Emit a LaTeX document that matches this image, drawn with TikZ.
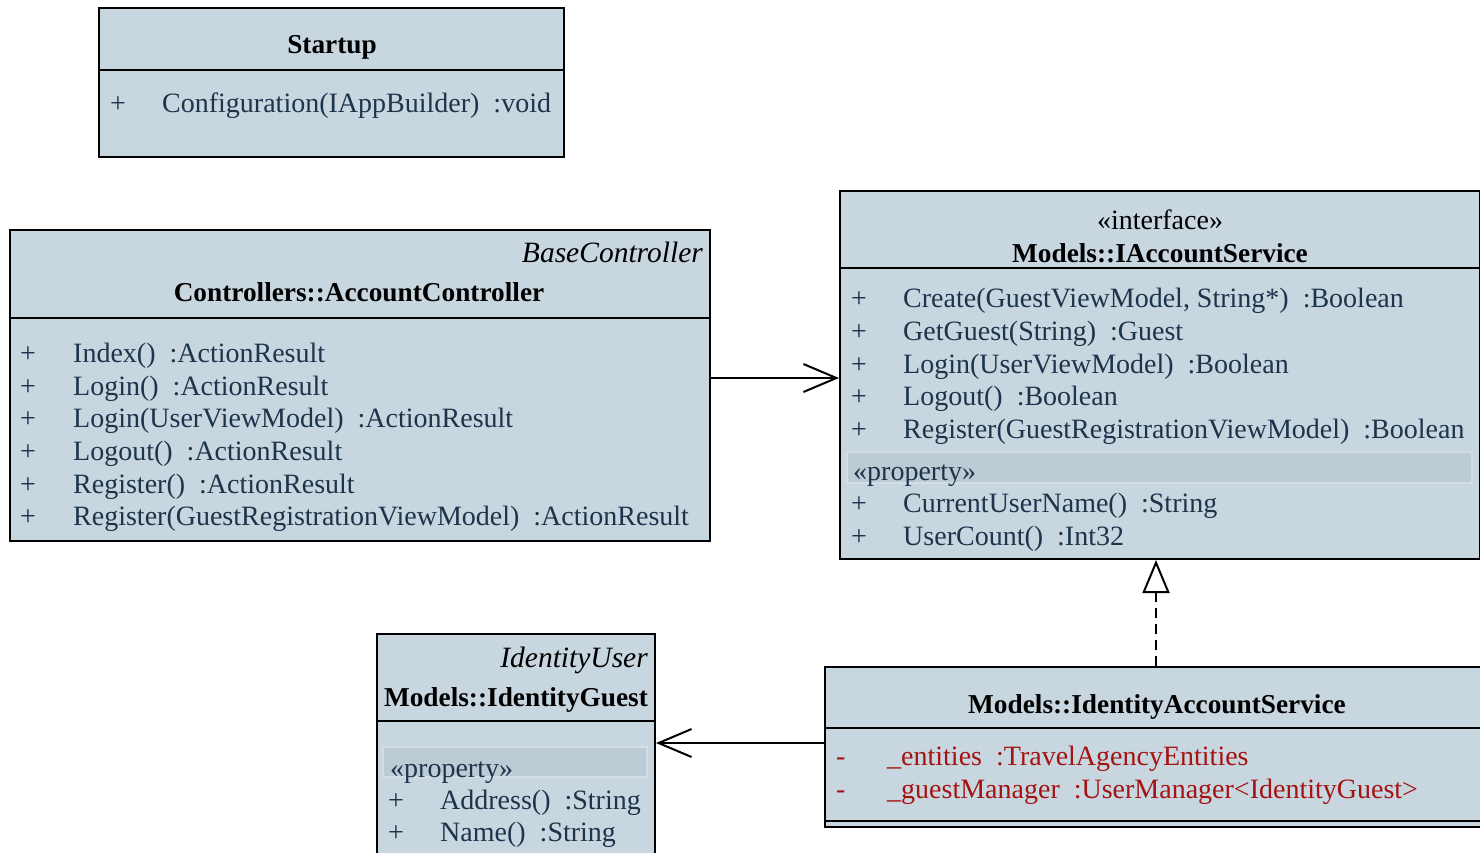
\documentclass[tikz,border=0pt]{standalone}
\usepackage{fontspec}
\setmainfont{Liberation Serif}
\usetikzlibrary{arrows.meta}
\definecolor{boxfill}{RGB}{200,214,223}
\definecolor{bandfill}{RGB}{189,203,213}
\definecolor{bandline}{RGB}{211,221,229}
\definecolor{navy}{RGB}{28,52,76}
\definecolor{darkred}{RGB}{165,18,18}
\tikzset{
  umlbox/.style={draw=black, line width=2pt, fill=boxfill, rectangle, inner sep=0pt},
  divline/.style={draw=black, line width=2pt},
  band/.style={draw=bandline, line width=2pt, fill=bandfill},
  mem/.style={inner sep=0pt, anchor=base west, text=navy, font=\fontsize{28}{33}\selectfont},
  priv/.style={mem, text=darkred},
  ttl/.style={inner sep=0pt, anchor=base, text=black, font=\fontsize{27.3}{33}\selectfont\bfseries},
  stereo/.style={inner sep=0pt, anchor=base, text=black, font=\fontsize{28}{33}\selectfont},
  parent/.style={inner sep=0pt, anchor=base east, text=black, font=\fontsize{29.5}{33}\selectfont\itshape},
  assoc/.style={draw=black, line width=2pt, -{Straight Barb[length=33pt,width=28pt]}},
  realize/.style={draw=black, line width=2pt, dash pattern=on 10pt off 6pt, -{Triangle[open,length=33pt,width=27pt,fill=white]}},
}
\begin{document}
\begin{tikzpicture}[x=1pt,y=-1pt]
\clip (0,0) rectangle (1480,852);
\fill[white] (0,0) rectangle (1480,852);

% ---------- Startup ----------
\node[umlbox, minimum width=465pt, minimum height=149pt, anchor=north west] (startup) at (98,7) {};
\draw[divline] (startup.west |- 0,70) -- (startup.east |- 0,70);
\node[ttl] (startupT) at (332,53) {Startup};
\node[mem] (s1a) at (110,112) {+};
\node[mem] (s1b) at (162,112) {Configuration(IAppBuilder)\ \ :void};

% ---------- AccountController ----------
\node[umlbox, minimum width=700pt, minimum height=311pt, anchor=north west] (ctrl) at (9,229) {};
\draw[divline] (ctrl.west |- 0,318) -- (ctrl.east |- 0,318);
\node[parent] (ctrlP) at (703,262) {BaseController};
\node[ttl] (ctrlT) at (359,301) {Controllers::AccountController};
\node[mem] (c1a) at (20,362) {+};
\node[mem] (c1b) at (73,362) {Index()\ \ :ActionResult};
\node[mem] (c2a) at (20,395) {+};
\node[mem] (c2b) at (73,395) {Login()\ \ :ActionResult};
\node[mem] (c3a) at (20,427) {+};
\node[mem] (c3b) at (73,427) {Login(UserViewModel)\ \ :ActionResult};
\node[mem] (c4a) at (20,460) {+};
\node[mem] (c4b) at (73,460) {Logout()\ \ :ActionResult};
\node[mem] (c5a) at (20,493) {+};
\node[mem] (c5b) at (73,493) {Register()\ \ :ActionResult};
\node[mem] (c6a) at (20,525) {+};
\node[mem] (c6b) at (73,525) {Register(GuestRegistrationViewModel)\ \ :ActionResult};

% ---------- IAccountService ----------
\node[umlbox, minimum width=640pt, minimum height=368pt, anchor=north west] (iacc) at (839,190) {};
\draw[divline] (iacc.west |- 0,268) -- (iacc.east |- 0,268);
\node[stereo] (iaccS) at (1160,229) {«interface»};
\node[ttl] (iaccT) at (1160,262) {Models::IAccountService};
\node[mem] (i1a) at (851,307) {+};
\node[mem] (i1b) at (903,307) {Create(GuestViewModel, String*)\ \ :Boolean};
\node[mem] (i2a) at (851,340) {+};
\node[mem] (i2b) at (903,340) {GetGuest(String)\ \ :Guest};
\node[mem] (i3a) at (851,373) {+};
\node[mem] (i3b) at (903,373) {Login(UserViewModel)\ \ :Boolean};
\node[mem] (i4a) at (851,405) {+};
\node[mem] (i4b) at (903,405) {Logout()\ \ :Boolean};
\node[mem] (i5a) at (851,438) {+};
\node[mem] (i5b) at (903,438) {Register(GuestRegistrationViewModel)\ \ :Boolean};
\path[band] (847,452) rectangle (1472,483);
\node[mem] (iaccPr) at (853,480) {«property»};
\node[mem] (i6a) at (851,512) {+};
\node[mem] (i6b) at (903,512) {CurrentUserName()\ \ :String};
\node[mem] (i7a) at (851,545) {+};
\node[mem] (i7b) at (903,545) {UserCount()\ \ :Int32};

% ---------- IdentityGuest ----------
\node[umlbox, minimum width=278pt, minimum height=260pt, anchor=north west] (guest) at (376,633) {};
\draw[divline] (guest.west |- 0,721) -- (guest.east |- 0,721);
\node[parent] (guestP) at (648,667) {IdentityUser};
\node[ttl] (guestT) at (516,706) {Models::IdentityGuest};
\path[band] (383,747) rectangle (647,777);
\node[mem] (guestPr) at (390,777) {«property»};
\node[mem] (g1a) at (388,809) {+};
\node[mem] (g1b) at (440,809) {Address()\ \ :String};
\node[mem] (g2a) at (388,841) {+};
\node[mem] (g2b) at (440,841) {Name()\ \ :String};

% ---------- IdentityAccountService ----------
\node[umlbox, minimum width=666pt, minimum height=160pt, anchor=north west] (ias) at (824,666) {};
\draw[divline] (ias.west |- 0,728) -- (ias.east |- 0,728);
\draw[divline] (ias.west |- 0,821) -- (ias.east |- 0,821);
\node[ttl] (iasT) at (1157,713) {Models::IdentityAccountService};
\node[priv] (a1a) at (836,765) {-};
\node[priv] (a1b) at (887,765) {\_entities\ \ :TravelAgencyEntities};
\node[priv] (a2a) at (836,798) {-};
\node[priv] (a2b) at (887,798) {\_guestManager\ \ :UserManager<IdentityGuest>};

% ---------- connectors ----------
\draw[assoc] (ctrl.east |- 0,378) -- (iacc.west |- 0,378);
\draw[assoc] (ias.west |- 0,743) -- (guest.east |- 0,743);
\draw[realize] (ias.north -| 1156,0) -- (iacc.south -| 1156,0);
\end{tikzpicture}
\end{document}
